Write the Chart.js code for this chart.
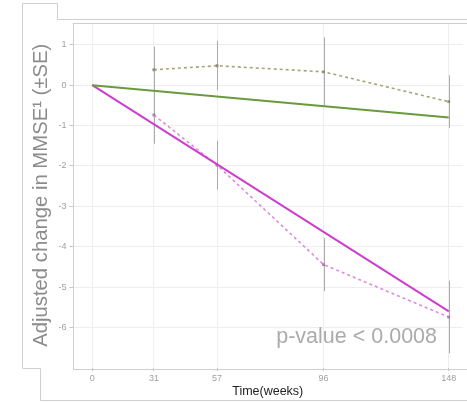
<!DOCTYPE html>
<html>
<head>
<meta charset="utf-8">
<script src="https://cdn.jsdelivr.net/npm/chart.js@4.4.1/dist/chart.umd.min.js"></script>
<style>
  html, body { margin: 0; padding: 0; background: #fff; }
  #wrap { position: relative; width: 467px; height: 402px; }
</style>
</head>
<body>
<div id="wrap"><canvas id="chart" width="467" height="402"></canvas></div>
<script>
// Visit labels (weeks) and where each visit sits on the horizontal axis
const weekLabels = ['0', '31', '57', '96', '148'];
const visitPos = [0, 25.6, 51.8, 96, 148];
const yTicks = [1, 0, -1, -2, -3, -4, -5, -6];

// Observed means (+/- SE) at visits 31..148
const greenObs = [0.38, 0.48, 0.33, -0.41];
const greenSE = [0.57, 0.61, 0.85, 0.65];
const magentaObs = [-0.74, -1.98, -4.44, -5.74];
const magentaSE = [0.71, 0.60, 0.66, 0.90];

// Fitted linear trends (start / end of follow-up)
const fitPos = [0, 148];
const greenFit = [0, -0.80];
const magentaFit = [0, -5.60];

const obsPos = visitPos.slice(1);
const toPoints = (xs, ys) => xs.map((x, i) => ({ x: x, y: ys[i] }));

const FONT = '"Liberation Sans", Arial, sans-serif';

// Draw the SE bars from the data using the chart scales
const errorBars = {
  id: 'errorBars',
  beforeDatasetsDraw(chart) {
    const { ctx, scales: { x, y } } = chart;
    ctx.save();
    ctx.strokeStyle = '#ababab';
    ctx.lineWidth = 1;
    [[greenObs, greenSE], [magentaObs, magentaSE]].forEach(([means, ses]) => {
      means.forEach((m, i) => {
        const px = Math.round(x.getPixelForValue(obsPos[i])) + 0.5;
        ctx.beginPath();
        ctx.moveTo(px, y.getPixelForValue(m + ses[i]));
        ctx.lineTo(px, y.getPixelForValue(m - ses[i]));
        ctx.stroke();
      });
    });
    ctx.restore();
  }
};

// Panel frame and plot border, plus the p-value note
const frame = {
  id: 'frame',
  afterDraw(chart) {
    const { ctx, chartArea: a } = chart;
    ctx.save();
    ctx.strokeStyle = '#cfcfcf';
    ctx.lineWidth = 1;
    ctx.strokeRect(Math.round(a.left) + 0.5, Math.round(a.top) + 0.5, a.right - a.left + 10, Math.round(a.bottom - a.top));
    ctx.beginPath();
    ctx.moveTo(22.5, 368);
    ctx.lineTo(22.5, 3.5);
    ctx.lineTo(57.5, 3.5);
    ctx.lineTo(57.5, 19.5);
    ctx.lineTo(467, 19.5);
    ctx.moveTo(22.5, 368.5);
    ctx.lineTo(40.5, 368.5);
    ctx.lineTo(40.5, 400.5);
    ctx.lineTo(467, 400.5);
    ctx.stroke();

    ctx.fillStyle = '#ababab';
    ctx.font = '21.5px ' + FONT;
    ctx.textAlign = 'right';
    ctx.textBaseline = 'middle';
    ctx.fillText('p-value < 0.0008', 437, 337);
    ctx.restore();
  }
};

new Chart(document.getElementById('chart'), {
  type: 'line',
  data: {
    datasets: [
      {
        data: toPoints(fitPos, greenFit),
        borderColor: '#6b9a3c',
        borderWidth: 2,
        pointRadius: 0
      },
      {
        data: toPoints(fitPos, magentaFit),
        borderColor: '#cc3fcc',
        borderWidth: 2,
        pointRadius: 0
      },
      {
        data: toPoints(obsPos, greenObs),
        borderColor: '#a5a57a',
        borderWidth: 1.6,
        borderDash: [3, 3],
        pointStyle: 'rect',
        pointRadius: 2,
        pointBackgroundColor: '#8f8f75',
        pointBorderWidth: 0
      },
      {
        data: toPoints(obsPos, magentaObs),
        borderColor: '#dd8add',
        borderWidth: 1.6,
        borderDash: [3, 3],
        pointStyle: 'rect',
        pointRadius: 2,
        pointBackgroundColor: '#b07ab0',
        pointBorderWidth: 0
      }
    ]
  },
  options: {
    responsive: false,
    animation: false,
    devicePixelRatio: 1,
    layout: { padding: { top: 22.5, right: 0, left: 0, bottom: 0 } },
    plugins: { legend: { display: false }, tooltip: { enabled: false } },
    scales: {
      x: {
        type: 'linear',
        min: -8.2,
        max: 153.9,
        afterBuildTicks: (scale) => { scale.ticks = visitPos.map(v => ({ value: v })); },
        afterFit: (scale) => { scale.height = 34; },
        ticks: {
          autoSkip: false,
          maxRotation: 0,
          padding: 2,
          color: '#a0a0a0',
          font: { family: FONT, size: 9 },
          callback: (v, i) => weekLabels[i]
        },
        grid: { color: '#eeeeee', tickColor: '#c4c4c4', tickLength: 3 },
        border: { display: false },
        title: {
          display: true,
          text: 'Time(weeks)',
          color: '#222',
          font: { family: FONT, size: 12.5 },
          padding: { top: 0, bottom: 3 }
        }
      },
      y: {
        min: -7,
        max: 1.55,
        afterBuildTicks: (scale) => { scale.ticks = yTicks.map(v => ({ value: v })); },
        afterFit: (scale) => { scale.width = 72.5; },
        ticks: {
          padding: 3,
          color: '#a0a0a0',
          font: { family: FONT, size: 9 }
        },
        grid: { color: '#eeeeee', tickColor: '#c4c4c4', tickLength: 3 },
        border: { display: false },
        title: {
          display: true,
          text: 'Adjusted change in MMSE¹ (±SE)',
          color: '#8c8c8c',
          font: { family: FONT, size: 20.3 },
          padding: { top: 29, bottom: 0 }
        }
      }
    }
  },
  plugins: [errorBars, frame]
});
</script>
</body>
</html>
